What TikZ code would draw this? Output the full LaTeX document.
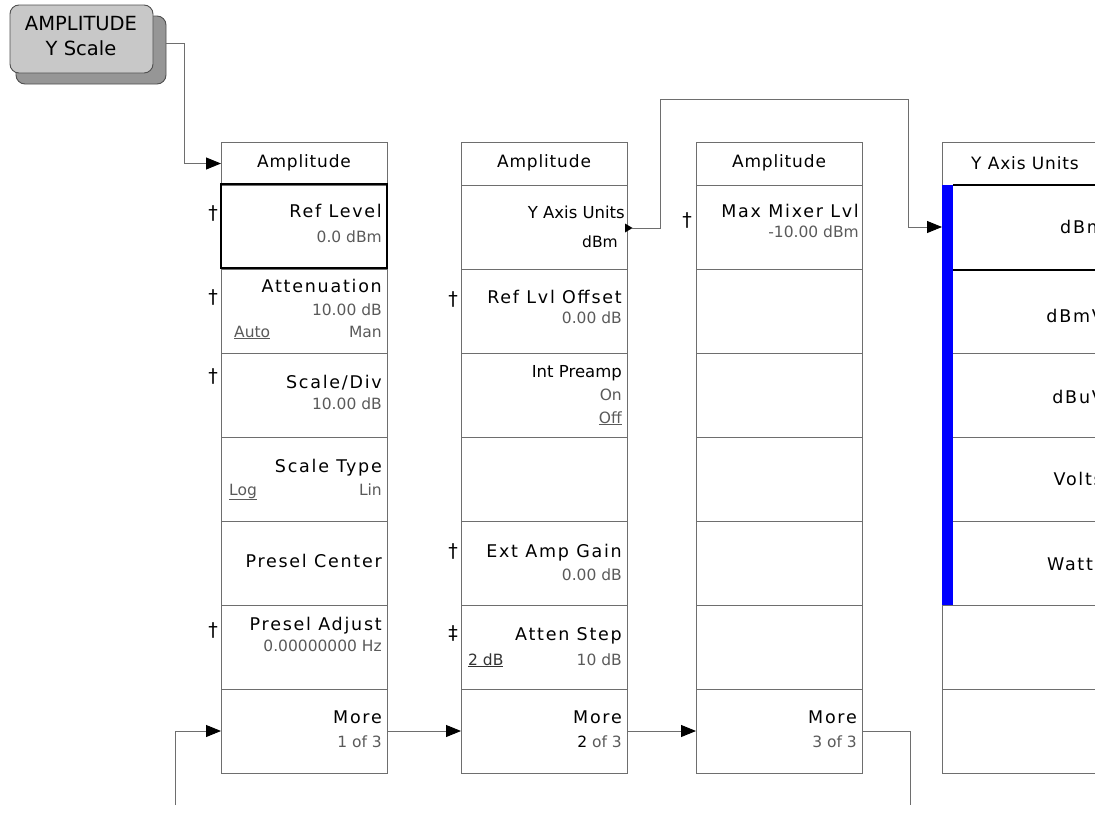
\documentclass[tikz,border=0pt]{standalone}
\usepackage{fontspec}
\setmainfont{DejaVu Sans}
\newfontfamily\fttl{DejaVu Sans}[LetterSpace=10]
\newfontfamily\fhdr{DejaVu Sans}[LetterSpace=5]
\newfontfamily\fval{DejaVu Sans}
\usetikzlibrary{arrows.meta}
\definecolor{lg}{RGB}{110,110,110}
\definecolor{valc}{RGB}{90,90,90}
\definecolor{btnf}{RGB}{200,200,200}
\definecolor{btns}{RGB}{150,150,150}
\definecolor{btnb}{RGB}{80,80,80}
\definecolor{ublue}{RGB}{0,0,255}
\tikzset{
 cell/.style={draw=lg, line width=0.9pt, minimum width=166pt, anchor=north west, inner sep=0pt, outer sep=0pt},
 ttl/.style={font=\fontsize{17.5}{20}\fttl, inner sep=0pt, anchor=base east},
 ttln/.style={font=\fontsize{16.5}{19}\fval, inner sep=0pt, anchor=base east},
 hdr/.style={font=\fontsize{17}{20}\fhdr, inner sep=0pt, anchor=base},
 val/.style={font=\fontsize{15.5}{18}\fval, text=valc, inner sep=0pt, anchor=base east},
 vall/.style={val, anchor=base west},
 dag/.style={font=\fontsize{19}{22}\fval, inner sep=0pt},
 conn/.style={draw=lg, line width=0.9pt},
 arr/.style={-{Triangle[length=15pt,width=12pt,color=black]}},
 btnsty/.style={draw=btnb, line width=0.9pt, rounded corners=9pt, anchor=north west, inner sep=0pt, outer sep=0pt},
 btntxt/.style={font=\fontsize{19.5}{23}\fval, inner sep=0pt, anchor=base},
}
\newcommand\mkcol[2]{%
  \node[cell, minimum height=43pt] (#1h) at (#2,142) {};
  \foreach \i in {1,...,7}{%
    \node[cell, minimum height=84pt] (#1r\i) at (#2,{185+84*(\i-1)}) {};
  }%
}
\begin{document}
\begin{tikzpicture}[x=1pt,y=-1pt]
\useasboundingbox (0,0) rectangle (1095,822);
\clip (0,0) rectangle (1095,822);

% button
\node[btnsty, fill=btns, minimum width=150pt, minimum height=68pt] (btnsh) at (16,16) {};
\node[btnsty, fill=btnf, minimum width=143pt, minimum height=68pt] (btn) at (10,5) {};
\node[btntxt] (bt1) at (81,30) {AMPLITUDE};
\node[btntxt] (bt2) at (81,55) {Y Scale};

% columns
\mkcol{c1}{221}
\mkcol{c2}{461}
\mkcol{c3}{696}
\mkcol{c4}{942}

% selected boxes
\node[cell, draw=black, line width=2.6pt, minimum height=84pt] (sel1) at (221,184) {};
\fill[ublue] (942,185) rectangle (953,605);
\draw[line width=2.4pt] (953,185) -- (1100,185) (953,270) -- (1100,270);

% column 1 texts
\node[hdr] (c1hd) at (304,167) {Amplitude};
\node[ttl] (c1t1) at (382,217) {Ref Level};
\node[val] (c1v1) at (382,242) {0.0 dBm};
\node[ttl] (c1t2) at (382,292) {Attenuation};
\node[val] (c1v2) at (382,315) {10.00 dB};
\node[vall] (c1a2) at (234,337) {\underline{Auto}};
\node[val] (c1m2) at (382,337) {Man};
\node[ttl] (c1t3) at (382,388) {Scale/Div};
\node[val] (c1v3) at (382,409) {10.00 dB};
\node[ttl] (c1t4) at (382,472) {Scale Type};
\node[vall] (c1a4) at (229,495) {\underline{Log}};
\node[val] (c1m4) at (382,495) {Lin};
\node[ttl] (c1t5) at (382,567) {Presel Center};
\node[ttl] (c1t6) at (382,630) {Presel Adjust};
\node[val] (c1v6) at (382,651) {0.00000000 Hz};
\node[ttl] (c1t7) at (382,723) {More};
\node[val] (c1v7) at (382,747) {1 of 3};
\node[dag] (d11) at (213,213) {†};
\node[dag] (d12) at (213,297) {†};
\node[dag] (d13) at (213,376) {†};
\node[dag] (d16) at (213,630) {†};

% column 2 texts
\node[hdr] (c2hd) at (544,167) {Amplitude};
\node[ttln] (c2t1) at (625,218) {Y Axis Units};
\node[val, text=black] (c2v1) at (618,247) {dBm};
\node[ttl] (c2t2) at (622,303) {Ref Lvl Offset};
\node[val] (c2v2) at (622,323) {0.00 dB};
\node[ttln] (c2t3) at (622,377) {Int Preamp};
\node[val] (c2v3) at (622,400) {On};
\node[val] (c2w3) at (622,423) {\underline{Off}};
\node[ttl] (c2t5) at (622,557) {Ext Amp Gain};
\node[val] (c2v5) at (622,580) {0.00 dB};
\node[ttl] (c2t6) at (622,640) {Atten Step};
\node[vall, text=black!80] (c2a6) at (468,665) {\underline{2 dB}};
\node[val] (c2m6) at (622,665) {10 dB};
\node[ttl] (c2t7) at (622,723) {More};
\node[val] (c2v7) at (622,747) {\textcolor{black}{2} of 3};
\node[dag] (d22) at (453,299) {†};
\node[dag] (d25) at (453,551) {†};
\node[dag] (d26) at (453,633) {‡};

% column 3 texts
\node[hdr] (c3hd) at (779,167) {Amplitude};
\node[ttl] (c3t1) at (859,217) {Max Mixer Lvl};
\node[val] (c3v1) at (859,237) {-10.00 dBm};
\node[ttl] (c3t7) at (857,723) {More};
\node[val] (c3v7) at (857,747) {3 of 3};
\node[dag] (d31) at (687,220) {†};

% column 4 texts
\node[hdr] (c4hd) at (1025,169) {Y Axis Units};
\node[ttl] (c4t1) at (1104,233) {dBm};
\node[ttl] (c4t2) at (1104,322) {dBmV};
\node[ttl] (c4t3) at (1104,403) {dBuV};
\node[ttl] (c4t4) at (1103,485) {Volts};
\node[ttl] (c4t5) at (1104,570) {Watts};

% connectors
\coordinate (bk) at (184,43);
\draw[conn,arr] (btnsh.east |- bk) -- (bk) |- (c1h.west);

\fill (625,223.5) -- (632.5,228) -- (625,232.5) -- cycle;
\coordinate (ya) at (632,228);
\coordinate (yb) at (660,99);
\coordinate (yc) at (908,99);
\draw[conn,arr] (ya) -| (yb) -- (yc) |- (c4r1.west);

\coordinate (lb) at (175,805);
\draw[conn,arr] (lb) |- (c1r7.west);
\draw[conn,arr] (c1r7.east) -- (c2r7.west);
\draw[conn,arr] (c2r7.east) -- (c3r7.west);
\coordinate (rb) at (910,805);
\draw[conn] (c3r7.east) -| (rb);
\end{tikzpicture}
\end{document}
